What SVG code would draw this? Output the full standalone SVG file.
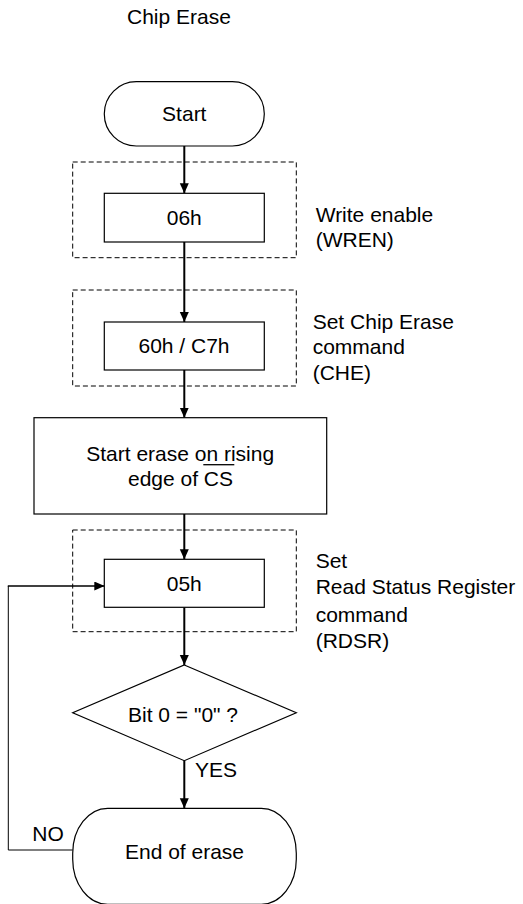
<svg xmlns="http://www.w3.org/2000/svg" width="523" height="904" viewBox="0 0 523 904">
<style>
text{font-family:"Liberation Sans",Arial,sans-serif;font-size:21px;fill:#000}
.c{text-anchor:middle}
.box{fill:#fff;stroke:#000;stroke-width:1.2}
.dash{fill:none;stroke:#000;stroke-width:1;stroke-dasharray:5 3}
.ar{fill:none;stroke:#000;stroke-width:2;marker-end:url(#ah)}
.thin{fill:none;stroke:#000;stroke-width:1}
</style>
<defs>
<marker id="ah" markerUnits="userSpaceOnUse" markerWidth="10" markerHeight="10" refX="10" refY="4.5" orient="auto">
<path d="M0,0 L10,4.5 L0,9 z" fill="#000"/>
</marker>
</defs>
<rect width="523" height="904" fill="#fff"/>
<text x="127" y="24">Chip Erase</text>

<g id="group-wren"><rect class="dash" x="72.7" y="162" width="223.6" height="95.7"/></g>
<g id="group-che"><rect class="dash" x="72.7" y="290" width="223.6" height="96"/></g>
<g id="group-rdsr"><rect class="dash" x="72.7" y="530" width="223.6" height="101.7"/></g>

<g id="connectors">
<line class="ar" x1="184.3" y1="146" x2="184.3" y2="193.3"/>
<line class="ar" x1="184.3" y1="242" x2="184.3" y2="322"/>
<line class="ar" x1="184.3" y1="370" x2="184.3" y2="417.7"/>
<line class="ar" x1="184.3" y1="514" x2="184.3" y2="559.3"/>
<line class="ar" x1="184.3" y1="607.3" x2="184.3" y2="665"/>
<line class="ar" x1="184.3" y1="760.7" x2="184.3" y2="808.3"/>
<polyline class="thin" points="72.7,850 8.3,850 8.3,586"/>
<line class="ar" x1="7.8" y1="586" x2="104.3" y2="586" style="stroke-width:1.7"/>
<text x="195" y="776.7">YES</text>
<text x="32.3" y="840.7">NO</text>
</g>

<g id="start"><rect class="box" x="104.3" y="81.7" width="160" height="64.3" rx="32" ry="32"/><text class="c" x="184.3" y="120.7">Start</text></g>

<g id="wren"><rect class="box" x="104.3" y="193.3" width="160" height="48.7"/><text class="c" x="184.3" y="225.3">06h</text></g>
<g id="wren-label"><text x="315.7" y="221.7">Write enable</text><text x="315.7" y="247.3">(WREN)</text></g>

<g id="che"><rect class="box" x="104.3" y="322" width="160" height="48"/><text class="c" x="184" y="352.7">60h / C7h</text></g>
<g id="che-label"><text x="312.7" y="329.3">Set Chip Erase</text><text x="312.7" y="354.3">command</text><text x="312.7" y="380">(CHE)</text></g>

<g id="start-erase"><rect class="box" x="34" y="417.7" width="292.7" height="96.3"/>
<text class="c" x="180.2" y="460.7">Start erase on rising</text>
<text class="c" x="180.5" y="486">edge of CS</text>
<line x1="203.3" y1="464.7" x2="234.3" y2="464.7" stroke="#000" stroke-width="1.3"/></g>

<g id="rdsr"><rect class="box" x="104.3" y="559.3" width="160" height="48"/><text class="c" x="184.3" y="591">05h</text></g>
<g id="rdsr-label"><text x="315.7" y="568.3">Set</text><text x="315.7" y="594.3">Read Status Register</text><text x="315.7" y="621.7">command</text><text x="315.7" y="648.3">(RDSR)</text></g>

<g id="decision"><polygon class="box" points="184.3,665 296.3,712.7 184.3,760.7 72.7,712.7"/><text class="c" x="183" y="722.3">Bit 0 = "0" ?</text></g>

<g id="end"><rect class="box" x="72.7" y="808.3" width="223.6" height="96" rx="35" ry="45"/><text class="c" x="184.5" y="859">End of erase</text></g>
</svg>
